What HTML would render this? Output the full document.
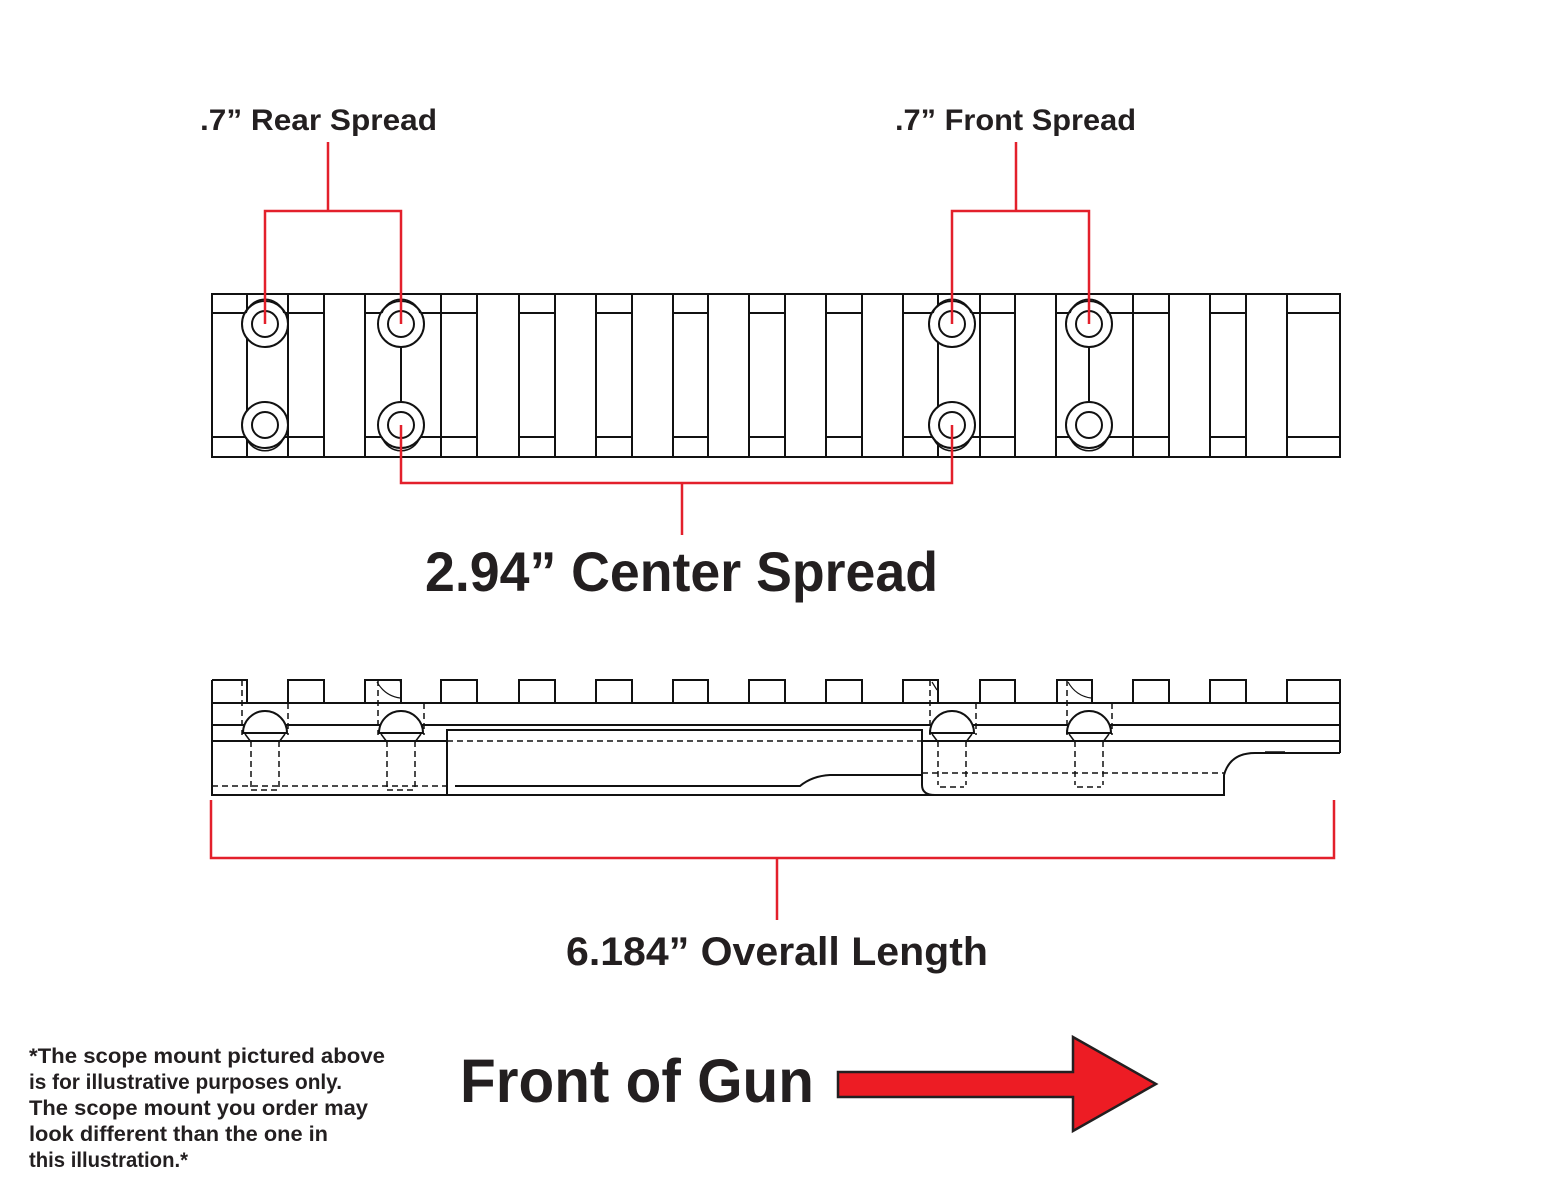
<!DOCTYPE html>
<html><head><meta charset="utf-8"><style>
html,body{margin:0;padding:0;background:#fff;}
svg{display:block;}
text{font-family:"Liberation Sans",sans-serif;font-weight:bold;fill:#231f20;}
</style></head><body>
<svg width="1552" height="1200" viewBox="0 0 1552 1200" xmlns="http://www.w3.org/2000/svg">
<g stroke="#111" stroke-width="2" fill="none">
<!-- TOP VIEW -->
<rect x="212" y="294" width="1128" height="163"/>
<!-- vertical lines -->
<path d="M247 294V457 M288 294V457 M324 294V457 M365 294V457 M441 294V457 M477 294V457 M519 294V457 M555 294V457 M596 294V457 M632 294V457 M673 294V457 M708 294V457 M749 294V457 M785 294V457 M826 294V457 M862 294V457 M903 294V457 M938 294V457 M980 294V457 M1015 294V457 M1056 294V457 M1133 294V457 M1169 294V457 M1210 294V457 M1246 294V457 M1287 294V457 M401 347V402 M1089 347V402"/>
<!-- horizontal lug lines -->
<path d="M212 313H324 M212 437H324 M365 313H477 M365 437H477 M519 313H555 M519 437H555 M596 313H632 M596 437H632 M673 313H708 M673 437H708 M749 313H785 M749 437H785 M826 313H862 M826 437H862 M903 313H1015 M903 437H1015 M1056 313H1169 M1056 437H1169 M1210 313H1246 M1210 437H1246 M1287 313H1340 M1287 437H1340"/>
</g>
<g stroke="#111" stroke-width="2" fill="#fff">
<circle cx="265" cy="324" r="23"/><circle cx="265" cy="324" r="13"/>
<circle cx="265" cy="425" r="23"/><circle cx="265" cy="425" r="13"/>
<circle cx="401" cy="324" r="23"/><circle cx="401" cy="324" r="13"/>
<circle cx="401" cy="425" r="23"/><circle cx="401" cy="425" r="13"/>
<circle cx="952" cy="324" r="23"/><circle cx="952" cy="324" r="13"/>
<circle cx="952" cy="425" r="23"/><circle cx="952" cy="425" r="13"/>
<circle cx="1089" cy="324" r="23"/><circle cx="1089" cy="324" r="13"/>
<circle cx="1089" cy="425" r="23"/><circle cx="1089" cy="425" r="13"/>
</g>
<g stroke="#111" stroke-width="1.5" fill="none">
<path d="M246 313A20 20 0 0 1 284 313 M382 313A20 20 0 0 1 420 313 M933 313A20 20 0 0 1 971 313 M1070 313A20 20 0 0 1 1108 313"/>
<path d="M246 437A20 20 0 0 0 284 437 M382 437A20 20 0 0 0 420 437 M933 437A20 20 0 0 0 971 437 M1070 437A20 20 0 0 0 1108 437"/>
</g>

<!-- SIDE VIEW -->
<g stroke="#111" stroke-width="2" fill="none">
<path d="M212 680H247V703 M288 703V680H324V703 M365 703V680H401V703 M441 703V680H477V703 M519 703V680H555V703 M596 703V680H632V703 M673 703V680H708V703 M749 703V680H785V703 M826 703V680H862V703 M903 703V680H938V703 M980 703V680H1015V703 M1057 703V680H1092V703 M1133 703V680H1169V703 M1210 703V680H1246V703 M1287 703V680H1340V753"/>
<path d="M212 680V795H935 M212 703H1340 M212 725H1340 M212 741H447 M922 741H1340"/>
<path d="M447 795Q447 790 447 786V730H922V785Q922 795 935 795H1224V775Q1230 753 1255 753H1340"/>
<path d="M455 786H800Q812 776 830 775H922"/>
<path d="M1265 752H1285" stroke-width="1.5"/>
</g>
<g stroke="#111" stroke-width="1.2" fill="none">
<path d="M400 680Q402 690 400 680 M377 682Q385 696 400 698 M1068 682Q1076 696 1091 698 M932 682L937 690"/>
</g>
<g stroke="#111" stroke-width="1.5" fill="none" stroke-dasharray="6,4">
<path d="M242 680V735 M288 703V735 M378 680V735 M424 703V735 M930 680V735 M976 703V735 M1067 680V735 M1112 703V735"/>
<path d="M447 741H922 M212 786H447 M922 773H1224"/>
<path d="M251 741V790 M279 741V790 M387 741V790 M415 741V790 M938 741V785 M966 741V785 M1075 741V785 M1103 741V785"/>
<path d="M251 790H279 M387 790H415 M940 787H964 M1077 787H1101"/>
</g>
<g stroke="#111" stroke-width="2" fill="#fff">
<path d="M243 733A22 22 0 0 1 287 733Z"/>
<path d="M379 733A22 22 0 0 1 423 733Z"/>
<path d="M930 733A22 22 0 0 1 974 733Z"/>
<path d="M1067 733A22 22 0 0 1 1111 733Z"/>
</g>
<g stroke="#111" stroke-width="1.5" fill="none">
<path d="M245 734L251 742 M285 734L279 742 M381 734L387 742 M421 734L415 742 M932 734L938 742 M972 734L966 742 M1069 734L1075 742 M1109 734L1103 742"/>
</g>

<!-- RED DIMENSION LINES -->
<g stroke="#e3202b" stroke-width="2.5" fill="none">
<path d="M328 142V211 M265 324V211H401V324"/>
<path d="M1016 142V211 M952 324V211H1089V324"/>
<path d="M401 425V483H952V425 M682 483V535"/>
<path d="M211 800V858H1334V800 M777 858V920"/>
</g>

<!-- TEXT -->
<text x="200" y="130" font-size="30" textLength="237" lengthAdjust="spacingAndGlyphs">.7” Rear Spread</text>
<text x="895" y="130" font-size="30" textLength="241" lengthAdjust="spacingAndGlyphs">.7” Front Spread</text>
<text x="425" y="591" font-size="56" textLength="513" lengthAdjust="spacingAndGlyphs">2.94” Center Spread</text>
<text x="566" y="965" font-size="40" textLength="422" lengthAdjust="spacingAndGlyphs">6.184” Overall Length</text>
<text x="460" y="1102" font-size="61" textLength="354" lengthAdjust="spacingAndGlyphs" fill="#000">Front of Gun</text>
<g font-size="21">
<text x="29" y="1063" textLength="356" lengthAdjust="spacingAndGlyphs" fill="#000">*The scope mount pictured above</text>
<text x="29" y="1089" textLength="313" lengthAdjust="spacingAndGlyphs" fill="#000">is for illustrative purposes only.</text>
<text x="29" y="1115" textLength="339" lengthAdjust="spacingAndGlyphs" fill="#000">The scope mount you order may</text>
<text x="29" y="1141" textLength="299" lengthAdjust="spacingAndGlyphs" fill="#000">look different than the one in</text>
<text x="29" y="1167" textLength="159" lengthAdjust="spacingAndGlyphs" fill="#000">this illustration.*</text>
</g>
<polygon points="838,1072 1073,1072 1073,1037 1156,1084 1073,1131 1073,1097 838,1097" fill="#ed1c24" stroke="#231f20" stroke-width="2.5"/>
</svg>
</body></html>
